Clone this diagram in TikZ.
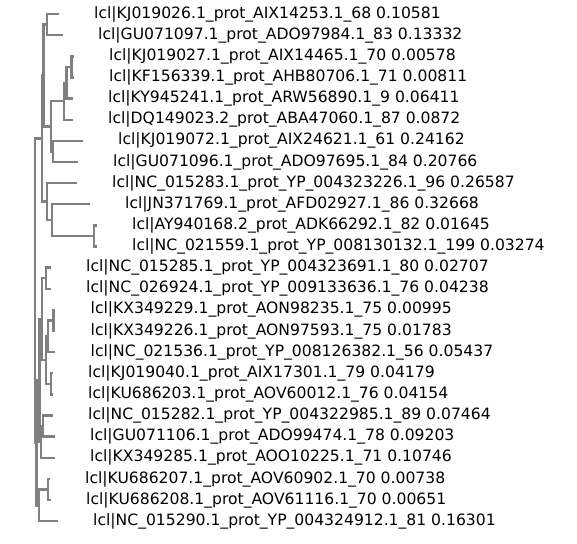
\documentclass[tikz,border=0pt]{standalone}
\usepackage{fontspec}
\setmainfont{DejaVu Sans}
\usepackage{tikz}
\usetikzlibrary{positioning}
\definecolor{treegray}{RGB}{128,128,128}

\begin{document}
\begin{tikzpicture}[x=1pt,y=-1pt]
\tikzstyle{branch}=[draw=treegray,line width=2.4pt]
\tikzstyle{leaf}=[inner sep=0pt,anchor=west,font=\fontsize{15.6}{18}\selectfont]
\useasboundingbox (0,0) rectangle (577,543);
% internal nodes
\coordinate (root) at (35,290.7);
\coordinate (n112) at (42,138.5);
\coordinate (n18) at (43.5,75.4);
\coordinate (n12) at (47,24.55);
\coordinate (n38) at (51,126.3);
\coordinate (n36) at (64,101.2);
\coordinate (n35) at (66.5,82.7);
\coordinate (n34) at (71.5,66.85);
\coordinate (n78) at (53,151.35);
\coordinate (n912) at (47,201.6);
\coordinate (n1012) at (52,220);
\coordinate (n1112) at (94,235.85);
\coordinate (n1325) at (36.5,442.9);
\coordinate (n1322) at (39.5,380.5);
\coordinate (n1319) at (42,319.1);
\coordinate (n1314) at (46,278.15);
\coordinate (n1519) at (46,360);
\coordinate (n1517) at (48,336.25);
\coordinate (n1516) at (53.5,320.4);
\coordinate (n1819) at (51,383.75);
\coordinate (n2022) at (41,441.9);
\coordinate (n2021) at (43,426.05);
\coordinate (n2325) at (39,505.3);
\coordinate (n2324) at (48,489.45);
% tips
\coordinate (t1) at (58.5,14);
\coordinate (t2) at (62.5,35.1);
\coordinate (t3) at (73.5,56.3);
\coordinate (t4) at (73.5,77.4);
\coordinate (t5) at (72.5,98.5);
\coordinate (t6) at (72.5,119.7);
\coordinate (t7) at (82.5,140.8);
\coordinate (t8) at (77.5,161.9);
\coordinate (t9) at (76.5,183);
\coordinate (t10) at (89.5,204.2);
\coordinate (t11) at (96.5,225.3);
\coordinate (t12) at (96.5,246.4);
\coordinate (t13) at (50.5,267.6);
\coordinate (t14) at (50.5,288.7);
\coordinate (t15) at (55,309.8);
\coordinate (t16) at (55,331);
\coordinate (t17) at (55,352.1);
\coordinate (t18) at (52.5,373.2);
\coordinate (t19) at (52.5,394.3);
\coordinate (t20) at (52.5,415.5);
\coordinate (t21) at (54.5,436.6);
\coordinate (t22) at (54.5,457.7);
\coordinate (t23) at (49.5,478.9);
\coordinate (t24) at (50.5,500);
\coordinate (t25) at (57.5,521.1);
% branches
\draw[branch] (root) |- (n112) (root) |- (n1325);
\draw[branch] (n112) |- (n18) (n112) |- (n912);
\draw[branch] (n18) |- (n12) (n18) |- (n38);
\draw[branch] (n12) |- (t1) (n12) |- (t2);
\draw[branch] (n38) |- (n36) (n38) |- (n78);
\draw[branch] (n36) |- (n35) (n36) |- (t6);
\draw[branch] (n35) |- (n34) (n35) |- (t5);
\draw[branch] (n34) |- (t3) (n34) |- (t4);
\draw[branch] (n78) |- (t7) (n78) |- (t8);
\draw[branch] (n912) |- (t9) (n912) |- (n1012);
\draw[branch] (n1012) |- (t10) (n1012) |- (n1112);
\draw[branch] (n1112) |- (t11) (n1112) |- (t12);
\draw[branch] (n1325) |- (n1322) (n1325) |- (n2325);
\draw[branch] (n1322) |- (n1319) (n1322) |- (n2022);
\draw[branch] (n1319) |- (n1314) (n1319) |- (n1519);
\draw[branch] (n1314) |- (t13) (n1314) |- (t14);
\draw[branch] (n1519) |- (n1517) (n1519) |- (n1819);
\draw[branch] (n1517) |- (n1516) (n1517) |- (t17);
\draw[branch] (n1516) |- (t15) (n1516) |- (t16);
\draw[branch] (n1819) |- (t18) (n1819) |- (t19);
\draw[branch] (n2022) |- (n2021) (n2022) |- (t22);
\draw[branch] (n2021) |- (t20) (n2021) |- (t21);
\draw[branch] (n2325) |- (n2324) (n2325) |- (t25);
\draw[branch] (n2324) |- (t23) (n2324) |- (t24);
% labels
\node[leaf,right=35.5pt of t1] (l1) {lcl|KJ019026.1\_prot\_AIX14253.1\_68 0.10581};
\node[leaf,right=35.5pt of t2] (l2) {lcl|GU071097.1\_prot\_ADO97984.1\_83 0.13332};
\node[leaf,right=35.5pt of t3] (l3) {lcl|KJ019027.1\_prot\_AIX14465.1\_70 0.00578};
\node[leaf,right=35.5pt of t4] (l4) {lcl|KF156339.1\_prot\_AHB80706.1\_71 0.00811};
\node[leaf,right=35.5pt of t5] (l5) {lcl|KY945241.1\_prot\_ARW56890.1\_9 0.06411};
\node[leaf,right=35.5pt of t6] (l6) {lcl|DQ149023.2\_prot\_ABA47060.1\_87 0.0872};
\node[leaf,right=35.5pt of t7] (l7) {lcl|KJ019072.1\_prot\_AIX24621.1\_61 0.24162};
\node[leaf,right=35.5pt of t8] (l8) {lcl|GU071096.1\_prot\_ADO97695.1\_84 0.20766};
\node[leaf,right=35.5pt of t9] (l9) {lcl|NC\_015283.1\_prot\_YP\_004323226.1\_96 0.26587};
\node[leaf,right=35.5pt of t10] (l10) {lcl|JN371769.1\_prot\_AFD02927.1\_86 0.32668};
\node[leaf,right=35.5pt of t11] (l11) {lcl|AY940168.2\_prot\_ADK66292.1\_82 0.01645};
\node[leaf,right=35.5pt of t12] (l12) {lcl|NC\_021559.1\_prot\_YP\_008130132.1\_199 0.03274};
\node[leaf,right=35.5pt of t13] (l13) {lcl|NC\_015285.1\_prot\_YP\_004323691.1\_80 0.02707};
\node[leaf,right=35.5pt of t14] (l14) {lcl|NC\_026924.1\_prot\_YP\_009133636.1\_76 0.04238};
\node[leaf,right=35.5pt of t15] (l15) {lcl|KX349229.1\_prot\_AON98235.1\_75 0.00995};
\node[leaf,right=35.5pt of t16] (l16) {lcl|KX349226.1\_prot\_AON97593.1\_75 0.01783};
\node[leaf,right=35.5pt of t17] (l17) {lcl|NC\_021536.1\_prot\_YP\_008126382.1\_56 0.05437};
\node[leaf,right=35.5pt of t18] (l18) {lcl|KJ019040.1\_prot\_AIX17301.1\_79 0.04179};
\node[leaf,right=35.5pt of t19] (l19) {lcl|KU686203.1\_prot\_AOV60012.1\_76 0.04154};
\node[leaf,right=35.5pt of t20] (l20) {lcl|NC\_015282.1\_prot\_YP\_004322985.1\_89 0.07464};
\node[leaf,right=35.5pt of t21] (l21) {lcl|GU071106.1\_prot\_ADO99474.1\_78 0.09203};
\node[leaf,right=35.5pt of t22] (l22) {lcl|KX349285.1\_prot\_AOO10225.1\_71 0.10746};
\node[leaf,right=35.5pt of t23] (l23) {lcl|KU686207.1\_prot\_AOV60902.1\_70 0.00738};
\node[leaf,right=35.5pt of t24] (l24) {lcl|KU686208.1\_prot\_AOV61116.1\_70 0.00651};
\node[leaf,right=35.5pt of t25] (l25) {lcl|NC\_015290.1\_prot\_YP\_004324912.1\_81 0.16301};
\end{tikzpicture}
\end{document}
